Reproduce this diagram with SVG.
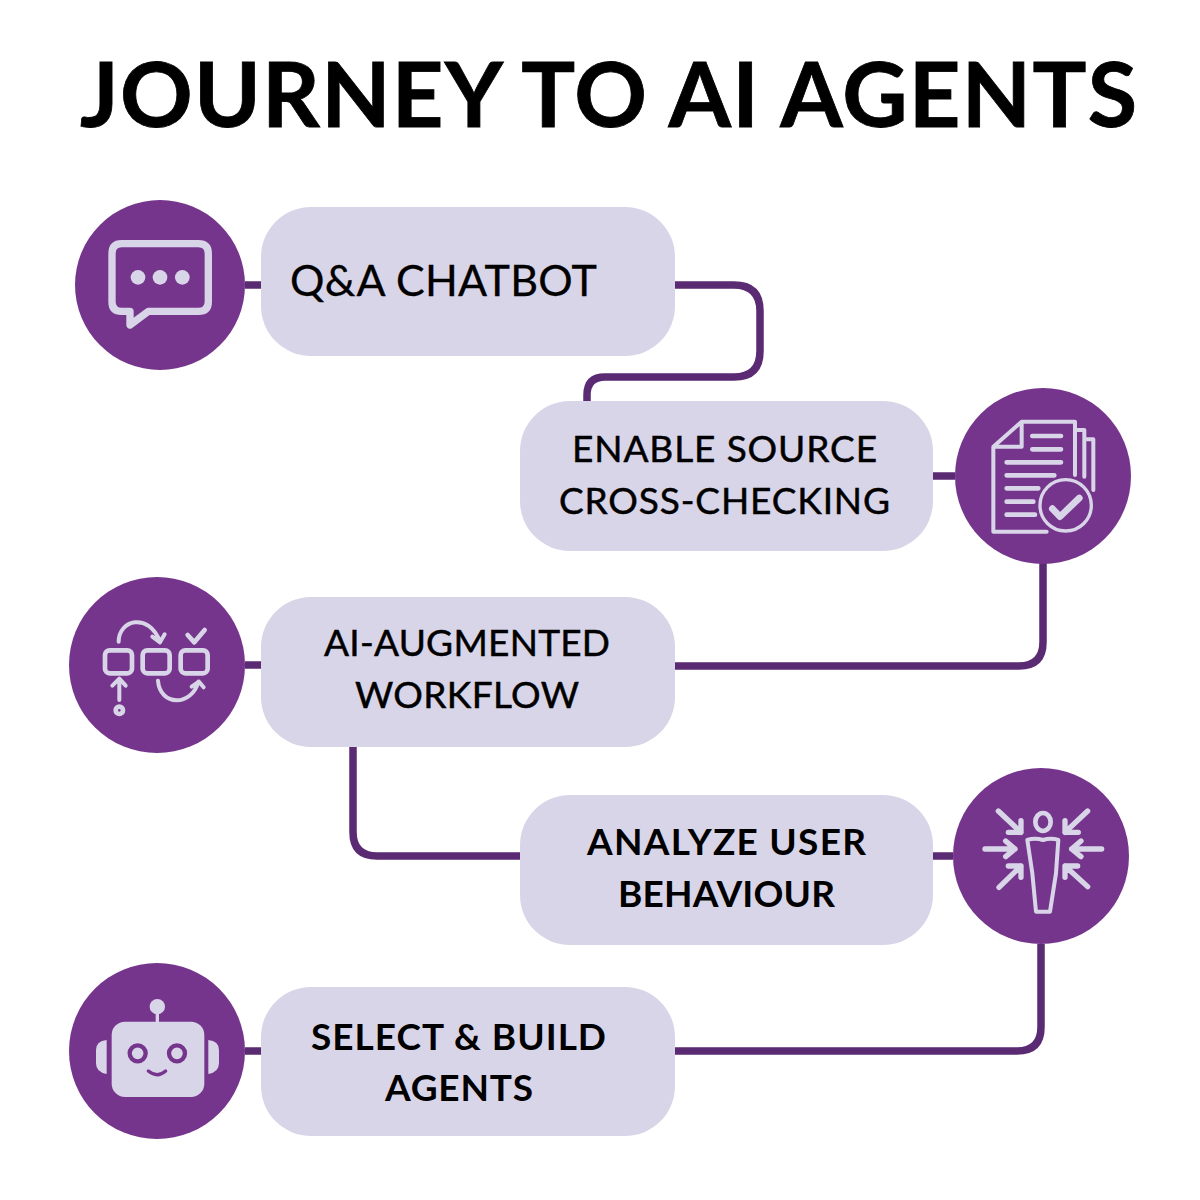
<svg xmlns="http://www.w3.org/2000/svg" width="1200" height="1200" viewBox="0 0 1200 1200">
<style>
.t{font-family:"Lato","Open Sans",sans-serif;fill:#000;text-anchor:middle}
.h{font-size:90px;font-weight:700;stroke:#000;stroke-width:.8}
.l{font-size:37px;font-weight:400;stroke:#000;stroke-width:.5}
.q{font-size:43px;font-weight:400;stroke:#000;stroke-width:.3}
.bd{font-weight:700;stroke:none}
.b{fill:#d9d5e8}
.c{fill:#76358c}
.i{fill:none;stroke:#d9d5e8;stroke-linecap:round;stroke-linejoin:round}
.s10{stroke-width:10}.s12{stroke-width:12}.s14{stroke-width:14}.s16{stroke-width:16}.s20{stroke-width:20}.s22{stroke-width:22}
.f{fill:#d9d5e8}
.cn{fill:none;stroke:#5a2a72;stroke-width:7.5}
.e{fill:#d9d5e8;stroke:#76358c;stroke-width:13}
.m{fill:none;stroke:#76358c;stroke-width:10;stroke-linecap:round}
</style>
<rect width="1200" height="1200" fill="#fff"/>
<text id="title" class="t h" x="608.5" y="127" textLength="1057">JOURNEY TO AI AGENTS</text>
<g id="connectors" class="cn">
<path d="M245 285H261"/>
<path d="M675 285H734Q760 285 760 311V351Q760 377 734 377H605Q587 377 587 395V402"/>
<path d="M933 476H955"/>
<path d="M1043 563V642Q1043 666 1019 666H675"/>
<path d="M245 665H261"/>
<path d="M353 747V832Q353 856 377 856H520"/>
<path d="M933 856H953"/>
<path d="M1041 944V1027Q1041 1051 1017 1051H675"/>
<path d="M245 1051H261"/>
</g>
<g id="n1">
<circle class="c" cx="160" cy="285" r="85"/>
<g transform="translate(60 190) scale(.3333)">
<path class="i s22" d="M185 161H415Q445 161 445 191V335Q445 364 415 364H265L210 405V364H185Q156 364 156 335V191Q156 161 185 161Z"/>
<circle class="f" cx="234" cy="262" r="22"/><circle class="f" cx="300" cy="262" r="22"/><circle class="f" cx="367" cy="262" r="22"/>
</g>
<rect class="b" x="261" y="207" width="414" height="149" rx="50"/>
<text class="t q" x="443.5" y="296" textLength="307">Q&amp;A CHATBOT</text>
</g>
<g id="n2">
<rect class="b" x="520" y="401" width="413" height="150" rx="50"/>
<text class="t l" x="724.5" y="462" textLength="305">ENABLE SOURCE</text>
<text class="t l" x="724.5" y="514" textLength="331">CROSS-CHECKING</text>
<circle class="c" cx="1043" cy="476" r="88"/>
<g transform="translate(945 380) scale(.3333)">
<path class="i s12" d="M305 455H145V200L230 125H390V285M145 200H230V125M395 150H418V290M418 178H445V330"/>
<path class="i s14" d="M262 168H348M262 208H348M185 247H348M185 286H328M185 325H280M185 365H265M185 404H270"/>
<circle class="i s10" cx="362" cy="376" r="77"/>
<path class="i s20" d="M322 386L345 410L403 354"/>
</g>
</g>
<g id="n3">
<circle class="c" cx="157" cy="665" r="88"/>
<g transform="translate(60 570) scale(.3333)">
<rect class="i s14" x="135" y="241" width="81" height="69" rx="14"/>
<rect class="i s14" x="248" y="241" width="81" height="69" rx="14"/>
<rect class="i s14" x="362" y="241" width="81" height="69" rx="14"/>
<path class="i s12" d="M176 215C176 150 265 125 300 215M277 200L300 217L314 193"/>
<path class="i s14" d="M383 195L403 217L434 180"/>
<path class="i s12" d="M294 332C300 410 395 410 415 335M395 350L417 335L431 352"/>
<path class="i s12" d="M178 390V328M157 347L178 326L197 347"/>
<circle class="i s14" cx="178" cy="421" r="11"/>
</g>
<rect class="b" x="261" y="597" width="414" height="150" rx="50"/>
<text class="t l" x="467" y="656" textLength="286">AI-AUGMENTED</text>
<text class="t l" x="467" y="708" textLength="224">WORKFLOW</text>
</g>
<g id="n4">
<rect class="b" x="520" y="795" width="413" height="150" rx="50"/>
<text class="t l bd" x="726.5" y="855" textLength="279">ANALYZE USER</text>
<text class="t l bd" x="726.5" y="907" textLength="217">BEHAVIOUR</text>
<circle class="c" cx="1041" cy="856" r="88"/>
<g transform="translate(945 760) scale(.3333)">
<ellipse class="i s14" cx="294" cy="186" rx="23" ry="27"/>
<path class="i s12" d="M247 240Q270 232 294 240Q318 232 340 240L333 340L315 455H273L262 340Z"/>
<path class="i s16" d="M160 153L228 217M228 182V217H190M428 153L360 217M360 182V217H400M120 267H210M182 243L210 267L182 290M470 267H380M408 243L380 267L408 290M162 382L228 318M190 318H228V352M428 380L360 318M398 318H360V352"/>
</g>
</g>
<g id="n5">
<circle class="c" cx="157" cy="1051" r="88"/>
<g transform="translate(60 955) scale(.3333)">
<rect class="f" x="155" y="200" width="278" height="226" rx="40"/>
<path class="f" d="M140 255V357Q108 352 108 325V285Q108 258 140 255ZM445 255V357Q477 352 477 325V285Q477 258 445 255Z"/>
<circle class="f" cx="292" cy="155" r="23"/>
<rect class="f" x="287" y="165" width="10" height="40"/>
<circle class="e" cx="233" cy="295" r="24"/>
<circle class="e" cx="351" cy="295" r="24"/>
<path class="m" d="M265 348Q292 370 317 348"/>
</g>
<rect class="b" x="261" y="987" width="414" height="149" rx="50"/>
<text class="t l bd" x="458.5" y="1050" textLength="295">SELECT &amp; BUILD</text>
<text class="t l bd" x="459" y="1101" textLength="148">AGENTS</text>
</g>
</svg>
